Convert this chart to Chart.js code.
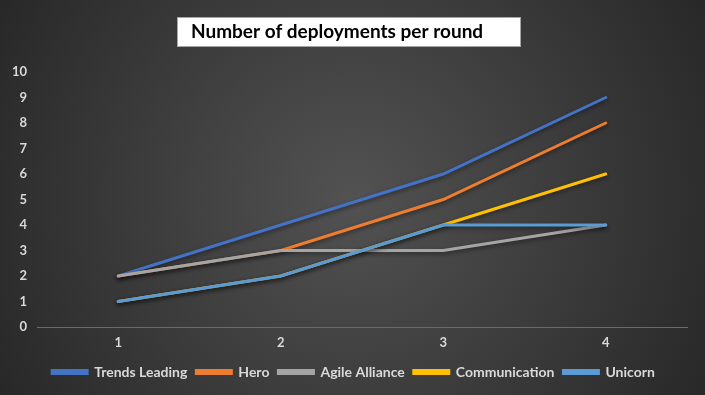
<!DOCTYPE html>
<html>
<head>
<meta charset="utf-8">
<script src="https://cdn.jsdelivr.net/npm/chart.js@4/dist/chart.umd.min.js"></script>
<style>
  html, body { margin: 0; padding: 0; background: #2b2b2b; }
  #wrap { width: 705px; height: 395px; position: relative; }
</style>
</head>
<body>
<div id="wrap"><canvas id="c"></canvas></div>
<script>
const rounds = ['1', '2', '3', '4'];
const trendsLeading = [2, 4, 6, 9];
const hero = [2, 3, 5, 8];
const agileAlliance = [2, 3, 3, 4];
const communication = [1, 2, 4, 6];
const unicorn = [1, 2, 4, 4];
const yTicks = [0, 1, 2, 3, 4, 5, 6, 7, 8, 9, 10];

const titleText = 'Number of deployments per round';
const txtColor = '#d9d9d9';

// dark radial background, like the office chart style
const bgPlugin = {
    id: 'bg',
    beforeDraw(chart) {
        const ctx = chart.ctx;
        const w = chart.width, h = chart.height;
        const g = ctx.createRadialGradient(w / 2, h / 2, 0, w / 2, h / 2, w * 0.6);
        g.addColorStop(0, '#525252');
        g.addColorStop(1, '#262626');
        ctx.save();
        ctx.fillStyle = g;
        ctx.fillRect(0, 0, w, h);
        ctx.restore();
    }
};

// white box title
const titleBox = {
    id: 'titleBox',
    afterDraw(chart) {
        const ctx = chart.ctx;
        ctx.save();
        ctx.fillStyle = '#ffffff';
        ctx.fillRect(177, 17, 344, 30);
        ctx.strokeStyle = '#a6a6a6';
        ctx.lineWidth = 1;
        ctx.strokeRect(177.5, 17.5, 343, 29);
        ctx.fillStyle = '#000000';
        ctx.font = 'bold 19px Lato';
        ctx.textBaseline = 'middle';
        ctx.textAlign = 'left';
        ctx.fillText(titleText, 191, 32);
        ctx.restore();
    }
};

// soft shadow under the lines
const lineShadow = {
    id: 'lineShadow',
    beforeDatasetDraw(chart) {
        const ctx = chart.ctx;
        ctx.save();
        ctx.shadowColor = 'rgba(0,0,0,0.45)';
        ctx.shadowBlur = 4;
        ctx.shadowOffsetY = 2;
    },
    afterDatasetDraw(chart) {
        chart.ctx.restore();
    }
};

// legend sits a bit right of the plot centre in the original
const legendNudge = {
    id: 'legendNudge',
    afterLayout(chart) {
        chart.legend.left += 10;
        chart.legend.right += 10;
    }
};

function ds(label, data, color, order) {
    return {
        label: label,
        data: data,
        borderColor: color,
        backgroundColor: color,
        borderWidth: 3,
        pointRadius: 0,
        tension: 0,
        borderCapStyle: 'round',
        order: order
    };
}

new Chart(document.getElementById('c'), {
    type: 'line',
    data: {
        labels: rounds,
        datasets: [
            ds('Trends Leading', trendsLeading, '#4472C4', 5),
            ds('Hero', hero, '#ED7D31', 4),
            ds('Agile Alliance', agileAlliance, '#A5A5A5', 3),
            ds('Communication', communication, '#FFC000', 2),
            ds('Unicorn', unicorn, '#5B9BD5', 1)
        ]
    },
    options: {
        responsive: true,
        maintainAspectRatio: false,
        animation: false,
        layout: { padding: { top: 72, right: 18, left: 0, bottom: 6 } },
        plugins: {
            title: { display: false },
            tooltip: { enabled: false },
            legend: {
                position: 'bottom',
                labels: {
                    color: txtColor,
                    font: { family: 'Lato', size: 14, weight: 'bold' },
                    boxWidth: 35,
                    boxHeight: 3,
                    padding: 9,
                    sort: (a, b) => a.datasetIndex - b.datasetIndex
                }
            }
        },
        scales: {
            x: {
                offset: true,
                grid: { display: false, drawTicks: false },
                border: { display: true, color: '#6a6a6a', width: 1 },
                ticks: {
                    color: txtColor,
                    padding: 8,
                    font: { family: 'Lato', size: 13, weight: 'bold' }
                },
                afterFit: s => { s.height = 29; }
            },
            y: {
                min: 0,
                max: 10,
                grid: { display: false, drawTicks: false },
                border: { display: false },
                afterBuildTicks: s => { s.ticks = yTicks.map(v => ({ value: v })); },
                ticks: {
                    color: txtColor,
                    padding: 10,
                    font: { family: 'Lato', size: 13, weight: 'bold' }
                },
                afterFit: s => { s.width = 37; }
            }
        }
    },
    plugins: [bgPlugin, lineShadow, legendNudge, titleBox]
});
</script>
</body>
</html>
